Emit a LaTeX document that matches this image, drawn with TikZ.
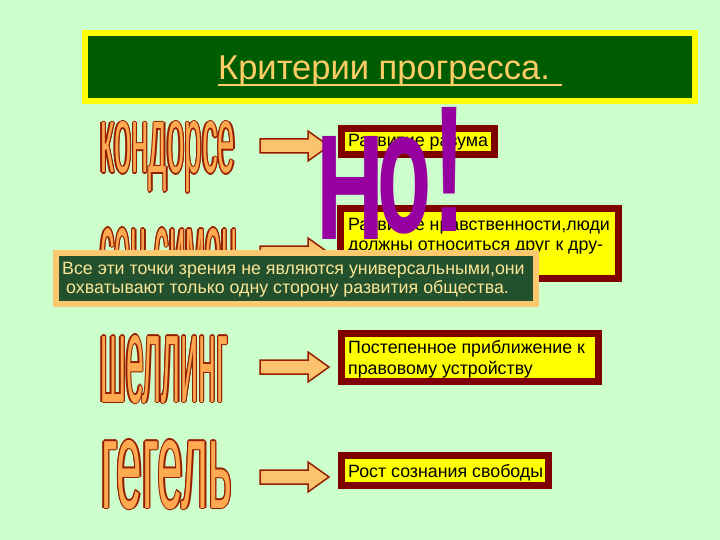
\documentclass[tikz,border=0pt]{standalone}
\usepackage{fontspec}
\setmainfont{Liberation Sans}
\usepackage{graphicx}
\definecolor{bg}{RGB}{204,255,204}
\definecolor{titleyellow}{RGB}{255,255,0}
\definecolor{titlegreen}{RGB}{0,92,0}
\definecolor{titletext}{RGB}{255,204,102}
\definecolor{boxred}{RGB}{128,0,0}
\definecolor{boxyellow}{RGB}{255,255,0}
\definecolor{wared}{RGB}{150,30,0}
\definecolor{wafill}{RGB}{255,170,80}
\definecolor{arrowfill}{RGB}{252,195,110}
\definecolor{nopurple}{RGB}{150,0,160}
\definecolor{bannerborder}{RGB}{250,200,110}
\definecolor{bannerfill}{RGB}{35,80,45}
\definecolor{bannertext}{RGB}{250,230,150}
\newbox\waBox
\newdimen\waDx
\newdimen\waDy
\newcommand\waCopy[3]{\rlap{\kern#1\smash{\raisebox{#2}{\textcolor{wared}{#3}}}}}
\newcommand\wordart[4]{%
  \setbox\waBox=\hbox{#4}%
  \pgfmathsetlength\waDx{#3*\the\wd\waBox/#1}%
  \pgfmathsetlength\waDy{#3*\the\ht\waBox/#2}%
  \resizebox{#1pt}{#2pt}{%
    \waCopy{\waDx}{0pt}{#4}\waCopy{-\waDx}{0pt}{#4}%
    \waCopy{0pt}{\waDy}{#4}\waCopy{0pt}{-\waDy}{#4}%
    \waCopy{0.7\waDx}{0.7\waDy}{#4}\waCopy{-0.7\waDx}{0.7\waDy}{#4}%
    \waCopy{0.7\waDx}{-0.7\waDy}{#4}\waCopy{-0.7\waDx}{-0.7\waDy}{#4}%
    \textcolor{wafill}{#4}}}
\newcommand\blockarrow[1]{%
  \filldraw[arrowshape] (260,{#1-7}) -- (308,{#1-7}) -- (308,{#1-15}) -- (329,#1)
    -- (308,{#1+15}) -- (308,{#1+7}) -- (260,{#1+7}) -- cycle;}
\tikzset{
  ybox/.style={draw=boxred, fill=boxyellow, line width=7pt, inner sep=0pt},
  boxtext/.style={anchor=base west, inner sep=0pt, text=black, font=\fontsize{17.8}{21}\selectfont},
  bannertxt/.style={anchor=base west, inner sep=0pt, text=bannertext, font=\fontsize{17.8}{21}\selectfont},
  arrowshape/.style={draw=wared, fill=arrowfill, line width=1.5pt, line join=miter},
  wa/.style={anchor=base west, inner sep=0pt},
  nochar/.style={anchor=base west, inner sep=0pt, text=nopurple, font=\bfseries},
}
\begin{document}
\begin{tikzpicture}[x=1pt,y=-1pt]
\useasboundingbox (0,0) rectangle (720,540);
\fill[bg] (0,0) rectangle (720,540);
% title
\node[draw=titleyellow, fill=titlegreen, line width=6pt, minimum width=610pt, minimum height=68pt, inner sep=0pt] (titlebox) at (390,67) {};
\node[anchor=base west, inner sep=0pt, text=titletext, font=\fontsize{34.5}{40}\selectfont] (title) at (218,80) {Критерии прогресса.\kern0.35em};
\draw[titletext, line width=2pt] ([yshift=-5pt]title.base west) -- ([yshift=-5pt]title.base east);
% word art names
\node[wa] (wa1) at (100,173) {\wordart{135}{51}{1.3}{кондорсе}};
\node[wa] (wa2) at (100,290) {\wordart{137}{62}{1.3}{сен симон}};
\node[wa] (wa3) at (100,402) {\wordart{128}{67}{1.3}{шеллинг}};
\node[wa] (wa4) at (101,508) {\wordart{131}{68}{1.3}{гегель}};
% arrows
\blockarrow{146}
\blockarrow{253}
\blockarrow{367}
\blockarrow{477}
% boxes
\node[ybox, minimum width=153pt, minimum height=26pt] (b1) at (418,141.5) {};
\node[boxtext] (t1) at (348,147) {Развитие разума};
\node[ybox, minimum width=278pt, minimum height=70pt] (b2) at (479.5,243.5) {};
\node[boxtext] (t2a) at (348,230) {Развитие нравственности,люди};
\node[boxtext] (t2b) at (348,250) {должны относиться друг к дру-};
\node[ybox, minimum width=257pt, minimum height=48pt] (b3) at (470,357.5) {};
\node[boxtext] (t3a) at (348,353) {Постепенное приближение к};
\node[boxtext] (t3b) at (348,374) {правовому устройству};
\node[ybox, minimum width=207pt, minimum height=30pt] (b4) at (445,470.5) {};
\node[boxtext] (t4) at (348,477) {Рост сознания свободы};
% Но!
\node[nochar] (noH) at (316,240) {\resizebox{68pt}{103pt}{\bfseries Н}};
\node[nochar] (noO) at (377.7,233) {\resizebox{54pt}{95pt}{\bfseries о}};
\node[nochar] (noX) at (432,232) {\resizebox{34pt}{124pt}{\bfseries !}};
% banner
\node[draw=bannerborder, fill=bannerfill, line width=6pt, minimum width=480pt, minimum height=51pt, inner sep=0pt] (banner) at (296,278.5) {};
\node[bannertxt] (bt1) at (62,274) {Все эти точки зрения не являются универсальными,они};
\node[bannertxt] (bt2) at (66,293) {охватывают только одну сторону развития общества.};
\end{tikzpicture}
\end{document}
